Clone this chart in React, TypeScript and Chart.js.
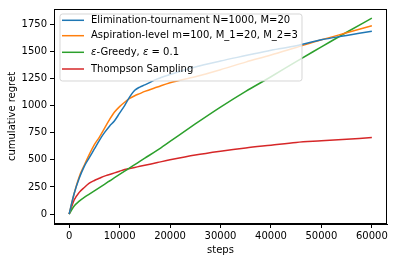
import React, { useEffect, useRef } from "react";
import { Chart, registerables } from "chart.js";

Chart.register(...registerables);

const steps = [0, 1000, 2000, 3000, 4000, 5000, 6000, 7000, 8000, 9000, 10000, 11000, 12000, 13000, 14000, 15000, 17500, 20000, 25000, 30000, 35000, 40000, 45000, 50000, 55000, 60000];
const elimination = [0, 190, 330, 440, 520, 600, 680, 750, 810, 860, 930, 1000, 1080, 1140, 1170, 1190, 1245, 1285, 1355, 1410, 1460, 1510, 1550, 1605, 1645, 1685];
const aspiration = [0, 190, 345, 450, 550, 640, 710, 790, 870, 940, 990, 1030, 1065, 1090, 1110, 1130, 1170, 1210, 1265, 1330, 1400, 1465, 1535, 1605, 1670, 1735];
const greedy = [0, 75, 120, 155, 185, 215, 245, 275, 305, 335, 365, 395, 425, 455, 485, 515, 590, 670, 830, 985, 1130, 1265, 1405, 1540, 1675, 1805];
const thompson = [0, 130, 200, 245, 285, 310, 330, 350, 365, 380, 395, 410, 420, 430, 440, 450, 475, 500, 545, 580, 610, 635, 660, 675, 690, 705];

const xTicks = [0, 10000, 20000, 30000, 40000, 50000, 60000];
const yTicks = [0, 250, 500, 750, 1000, 1250, 1500, 1750];

const seriesNames = [
  "Elimination-tournament N=1000, M=20",
  "Aspiration-level m=100, M_1=20, M_2=3",
  "ε-Greedy, ε = 0.1",
  "Thompson Sampling",
];
const colors = ["#1f77b4", "#ff7f0e", "#2ca02c", "#d62728"];

const FONT = "'DejaVu Sans', sans-serif";

const legendPlugin = {
  id: "mplLegend",
  afterDatasetsDraw(chart: any) {
    const ctx = chart.ctx;
    const ca = chart.chartArea;
    ctx.save();
    ctx.strokeStyle = "#000";
    ctx.lineWidth = 1;
    ctx.strokeRect(Math.round(ca.left) + 0.5, Math.round(ca.top) + 0.5, Math.round(ca.right - ca.left) - 1, Math.round(ca.bottom - ca.top) - 1);

    const x0 = ca.left + 6;
    const y0 = ca.top + 5;
    const w = 242;
    const h = 67;
    const r = 2.5;
    ctx.beginPath();
    ctx.moveTo(x0 + r, y0);
    ctx.lineTo(x0 + w - r, y0);
    ctx.quadraticCurveTo(x0 + w, y0, x0 + w, y0 + r);
    ctx.lineTo(x0 + w, y0 + h - r);
    ctx.quadraticCurveTo(x0 + w, y0 + h, x0 + w - r, y0 + h);
    ctx.lineTo(x0 + r, y0 + h);
    ctx.quadraticCurveTo(x0, y0 + h, x0, y0 + h - r);
    ctx.lineTo(x0, y0 + r);
    ctx.quadraticCurveTo(x0, y0, x0 + r, y0);
    ctx.closePath();
    ctx.fillStyle = "rgba(255,255,255,0.8)";
    ctx.fill();
    ctx.strokeStyle = "rgba(204,204,204,0.8)";
    ctx.lineWidth = 1;
    ctx.stroke();

    const rows = [20.3, 35.7, 52.3, 69];
    ctx.font = `10px ${FONT}`;
    ctx.textBaseline = "middle";
    ctx.textAlign = "left";
    seriesNames.forEach((name, i) => {
      const y = rows[i];
      ctx.strokeStyle = colors[i];
      ctx.lineWidth = 1.5;
      ctx.beginPath();
      ctx.moveTo(62, y);
      ctx.lineTo(84, y);
      ctx.stroke();
      ctx.fillStyle = "#000";
      if (i === 2) {
        let x = 91;
        const parts: [string, boolean][] = [["ε", true], ["-Greedy, ", false], ["ε", true], [" = 0.1", false]];
        parts.forEach(([t, it]) => {
          ctx.font = it ? `italic 10px ${FONT}` : `10px ${FONT}`;
          ctx.fillText(t, x, y);
          x += ctx.measureText(t).width;
        });
        ctx.font = `10px ${FONT}`;
      } else {
        ctx.fillText(name, 91, y);
      }
    });
    ctx.restore();
  },
};

export default function App() {
  const ref = useRef<HTMLCanvasElement>(null);
  useEffect(() => {
    document.body.style.margin = "0";
    const series = [elimination, aspiration, greedy, thompson];
    const chart = new Chart(ref.current!, {
      type: "line",
      data: {
        datasets: series.map((vals, i) => ({
          label: seriesNames[i],
          data: steps.map((s, j) => ({ x: s, y: vals[j] })),
          borderColor: colors[i],
          backgroundColor: colors[i],
          borderWidth: 1.5,
          pointRadius: 0,
          cubicInterpolationMode: "monotone",
          fill: false,
        })),
      },
      options: {
        animation: false,
        responsive: false,
        maintainAspectRatio: false,
        layout: { padding: { left: 0, top: 7, right: 9, bottom: 0 } },
        plugins: { legend: { display: false }, tooltip: { enabled: false } },
        scales: {
          x: {
            type: "linear",
            min: -3000,
            max: 63000,
            afterBuildTicks: (s: any) => { s.ticks = xTicks.map((v) => ({ value: v })); },
            afterFit: (s: any) => { s.height = 38; },
            grid: { drawOnChartArea: false, drawTicks: true, tickLength: 4, tickColor: "#000" },
            border: { display: true, color: "#000", width: 1 },
            ticks: { color: "#000", font: { family: FONT, size: 10 }, padding: 2, maxRotation: 0, callback: (v: any) => String(v) },
            title: { display: true, text: "steps", color: "#000", font: { family: FONT, size: 10 }, padding: { top: 1, bottom: 6 } },
          },
          y: {
            type: "linear",
            min: -91,
            max: 1889,
            afterBuildTicks: (s: any) => { s.ticks = yTicks.map((v) => ({ value: v })); },
            afterFit: (s: any) => { s.width = 54; },
            grid: { drawOnChartArea: false, drawTicks: true, tickLength: 4, tickColor: "#000" },
            border: { display: true, color: "#000", width: 1 },
            ticks: { color: "#000", font: { family: FONT, size: 10 }, padding: 3, callback: (v: any) => String(v) },
            title: { display: true, text: "cumulative regret", color: "#000", font: { family: FONT, size: 10 }, padding: { top: 6, bottom: 2 } },
          },
        },
      },
      plugins: [legendPlugin],
    });
    return () => chart.destroy();
  }, []);
  return (
    <div style={{ width: 396, height: 262 }}>
      <canvas ref={ref} width={396} height={262} style={{ width: 396, height: 262, display: "block" }} />
    </div>
  );
}
